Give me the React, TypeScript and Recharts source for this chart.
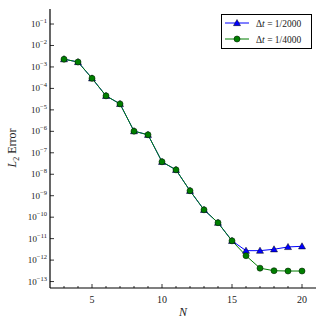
import React from 'react';
import { LineChart, Line, XAxis, YAxis } from 'recharts';

// L2 error vs N for two time steps
const nValues = [3, 4, 5, 6, 7, 8, 9, 10, 11, 12, 13, 14, 15, 16, 17, 18, 19, 20];
const errDt2000 = [
  2.3e-3, 1.7e-3, 2.95e-4, 4.5e-5, 1.9e-5, 1.02e-6, 6.9e-7, 3.8e-8, 1.6e-8, 1.7e-9,
  2.2e-10, 5.5e-11, 7.9e-12, 2.75e-12, 2.75e-12, 3.2e-12, 4.1e-12, 4.4e-12,
];
const errDt4000 = [
  2.3e-3, 1.7e-3, 2.95e-4, 4.5e-5, 1.9e-5, 1.02e-6, 6.9e-7, 3.8e-8, 1.6e-8, 1.7e-9,
  2.2e-10, 5.5e-11, 7.9e-12, 1.6e-12, 4.2e-13, 3.2e-13, 3.1e-13, 3.1e-13,
];
const xTicks = [2, 3, 4, 5, 6, 7, 8, 9, 10, 11, 12, 13, 14, 15, 16, 17, 18, 19, 20, 21];
const yExponents = [-13, -12, -11, -10, -9, -8, -7, -6, -5, -4, -3, -2, -1];

const BLUE = '#0000ff';
const GREEN = '#007f00';
const FONT = '"Liberation Serif", "DejaVu Serif", serif';

const data = nValues.map((n, i) => ({ n, dt2000: errDt2000[i], dt4000: errDt4000[i] }));
const yTicks = yExponents.map((e) => Math.pow(10, e));
const yDomain = [Math.pow(10, -13.3), Math.pow(10, -0.3)];

const XTick = ({ x, y, payload, top }: any) => {
  const v = payload.value;
  const major = v % 5 === 0;
  const len = major ? 4 : 2;
  if (v === 2 || v === 21) return <g />;
  return (
    <g>
      <line x1={x} x2={x} y1={y} y2={top ? y + len : y - len} stroke="#000" strokeWidth={0.8} />
      {!top && major && (
        <text x={x} y={y + 15} textAnchor="middle" fontSize={10} fontFamily={FONT} fill="#222">
          {v}
        </text>
      )}
    </g>
  );
};

const YTick = ({ x, y, payload, right }: any) => {
  const exp = Math.round(Math.log10(payload.value));
  return (
    <g>
      <line x1={x} x2={right ? x - 4 : x + 4} y1={y} y2={y} stroke="#000" strokeWidth={0.8} />
      {!right && (
        <text x={x - 3} y={y + 3} textAnchor="end" fontSize={9} fontFamily={FONT} fill="#222">
          10
          <tspan dy={-4} fontSize={6.5}>
            {'\u2212' + Math.abs(exp)}
          </tspan>
        </text>
      )}
    </g>
  );
};

const Triangle = ({ cx, cy }: any) => {
  if (cx == null || cy == null) return <g />;
  const s = 3.5;
  return (
    <polygon
      points={`${cx},${cy - s} ${cx - s},${cy + s * 0.75} ${cx + s},${cy + s * 0.75}`}
      fill={BLUE}
      stroke="#000"
      strokeWidth={0.5}
    />
  );
};

const Circle = ({ cx, cy }: any) => {
  if (cx == null || cy == null) return <g />;
  return <circle cx={cx} cy={cy} r={3} fill={GREEN} stroke="#002200" strokeWidth={0.6} />;
};

export default function App() {
  return (
    <div style={{ position: 'absolute', left: 0, top: 0, width: 325, height: 325, background: '#fff' }}>
      <LineChart width={325} height={325} data={data} margin={{ top: 9, right: 9, left: 0, bottom: 0 }}>
        <XAxis
          dataKey="n"
          type="number"
          domain={[2, 21]}
          ticks={xTicks}
          interval={0}
          height={37}
          tickSize={0}
          tickMargin={0}
          tickLine={false}
          axisLine={{ stroke: '#000', strokeWidth: 1.2 }}
          tick={<XTick />}
        />
        <XAxis
          xAxisId="top"
          orientation="top"
          dataKey="n"
          type="number"
          domain={[2, 21]}
          ticks={xTicks}
          interval={0}
          height={0}
          tickSize={0}
          tickMargin={0}
          tickLine={false}
          axisLine={{ stroke: '#000', strokeWidth: 1.2 }}
          tick={<XTick top />}
        />
        <YAxis
          scale="log"
          type="number"
          domain={yDomain}
          allowDataOverflow
          ticks={yTicks}
          interval={0}
          width={50}
          tickSize={0}
          tickMargin={0}
          tickLine={false}
          axisLine={{ stroke: '#000', strokeWidth: 1.2 }}
          tick={<YTick />}
        />
        <YAxis
          yAxisId="right"
          orientation="right"
          scale="log"
          type="number"
          domain={yDomain}
          allowDataOverflow
          ticks={yTicks}
          interval={0}
          width={0}
          tickSize={0}
          tickMargin={0}
          tickLine={false}
          axisLine={{ stroke: '#000', strokeWidth: 1.2 }}
          tick={<YTick right />}
        />
        <Line
          dataKey="dt2000"
          stroke={BLUE}
          strokeWidth={1}
          isAnimationActive={false}
          dot={(p: any) => <Triangle key={`t-${p.index}`} cx={p.cx} cy={p.cy} />}
        />
        <Line
          dataKey="dt4000"
          stroke={GREEN}
          strokeWidth={1}
          isAnimationActive={false}
          dot={(p: any) => <Circle key={`c-${p.index}`} cx={p.cx} cy={p.cy} />}
        />
      </LineChart>
      <svg
        width={325}
        height={325}
        style={{ position: 'absolute', left: 0, top: 0, pointerEvents: 'none' }}
        fontFamily={FONT}
      >
        <text x={183} y={316} textAnchor="middle" fontSize={12} fontStyle="italic" fill="#222">
          N
        </text>
        <text transform="translate(16,148) rotate(-90)" textAnchor="middle" fontSize={12} fill="#222">
          <tspan fontStyle="italic">L</tspan>
          <tspan fontSize={8} dy={3}>2</tspan>
          <tspan dy={-3}> Error</tspan>
        </text>
        <rect x={221.5} y={14.5} width={90} height={34} fill="#fff" stroke="#000" strokeWidth={1} />
        <line x1={225} x2={249} y1={23} y2={23} stroke={BLUE} strokeWidth={1} />
        <Triangle cx={237} cy={23} />
        <text x={256} y={26.5} fontSize={9.5} fill="#222">
          {'\u0394'}
          <tspan fontStyle="italic">t</tspan> = 1/2000
        </text>
        <line x1={225} x2={249} y1={39} y2={39} stroke={GREEN} strokeWidth={1} />
        <Circle cx={237} cy={39} />
        <text x={256} y={42.5} fontSize={9.5} fill="#222">
          {'\u0394'}
          <tspan fontStyle="italic">t</tspan> = 1/4000
        </text>
      </svg>
    </div>
  );
}
